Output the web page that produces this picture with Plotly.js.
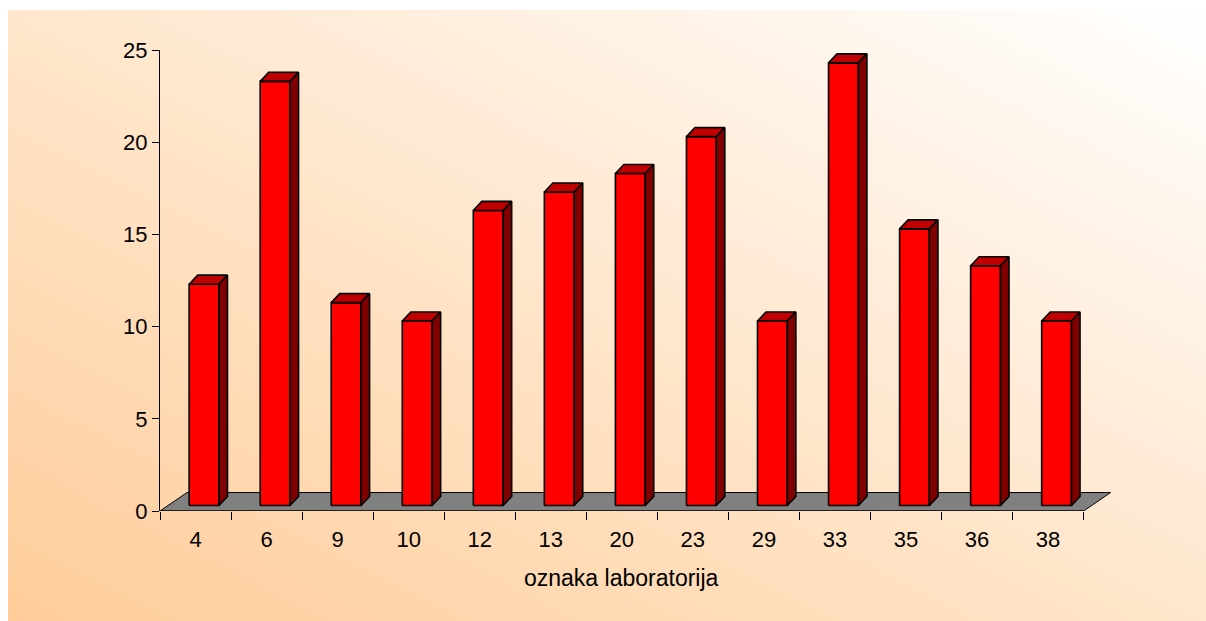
<!DOCTYPE html>
<html>
<head>
<meta charset="utf-8">
<script src="https://cdn.plot.ly/plotly-3.0.1.min.js"></script>
<style>
  html, body { margin: 0; padding: 0; background: #ffffff; }
  #bg { position: absolute; left: 8px; top: 10px; width: 1198px; height: 611px;
        background: linear-gradient(to top right, #FFCC99 0%, #FFE6CC 50%, #FFFFFF 100%); }
  #chart { position: absolute; left: 0; top: 0; width: 1206px; height: 621px; }
</style>
</head>
<body>
<div id="bg"></div>
<div id="chart"></div>
<script>
// ---- data ----
const categories = ['4', '6', '9', '10', '12', '13', '20', '23', '29', '33', '35', '36', '38'];
const values = [12, 23, 11, 10, 16, 17, 18, 20, 10, 24, 15, 13, 10];
const yTickVals = [0, 5, 10, 15, 20, 25];
const xTitle = 'oznaka laboratorija';

// ---- pseudo-3D geometry (in axis units) ----
const barW = 0.42, frontDx = 0.12, frontDy = 0.3;
const sideDx = 0.12, sideDy = 0.49;
const floorDx = 0.38, floorDy = 1.0;
const n = categories.length;
const idx = categories.map((_, i) => i);

const fx = [], fy = [], tx = [], ty = [], sx = [], sy = [];
idx.forEach(i => {
  const v = values[i];
  const x0 = i + frontDx - barW / 2, x1 = x0 + barW;
  const y0 = frontDy, y1 = frontDy + v;
  fx.push(x0, x1, x1, x0, x0, null); fy.push(y0, y0, y1, y1, y0, null);
  tx.push(x0, x1, x1 + sideDx, x0 + sideDx, x0, null);
  ty.push(y1, y1, y1 + sideDy, y1 + sideDy, y1, null);
  sx.push(x1, x1 + sideDx, x1 + sideDx, x1, x1, null);
  sy.push(y0, y0 + sideDy, y1 + sideDy, y1, y0, null);
});

const xL = -0.5, xR = n - 0.5;
const boundaries = idx.map(i => i - 0.5).concat([xR]);
const edge = { color: '#000000', width: 1.6 };

const traces = [
  { type: 'scatter', mode: 'lines', x: [xL, xR, xR + floorDx, xL + floorDx, xL],
    y: [0, 0, floorDy, floorDy, 0], fill: 'toself', fillcolor: '#808080',
    line: { color: '#000000', width: 1 }, hoverinfo: 'skip' },
  { type: 'scatter', mode: 'lines', x: fx, y: fy, fill: 'toself', fillcolor: '#FF0000',
    line: edge, hoverinfo: 'skip' },
  { type: 'scatter', mode: 'lines', x: tx, y: ty, fill: 'toself', fillcolor: '#C00000',
    line: edge, hoverinfo: 'skip' },
  { type: 'scatter', mode: 'lines', x: sx, y: sy, fill: 'toself', fillcolor: '#800000',
    line: edge, hoverinfo: 'skip' },
  { type: 'scatter', mode: 'lines', x: [xL, xR], y: [0, 0],
    line: { color: '#000000', width: 1 }, hoverinfo: 'skip' }
];

const font = { family: 'Liberation Sans, Arial, sans-serif', color: '#000000' };

const layout = {
  width: 1206, height: 621,
  margin: { l: 160, r: 94, t: 50, b: 110, pad: 0 },
  paper_bgcolor: 'rgba(0,0,0,0)', plot_bgcolor: 'rgba(0,0,0,0)',
  showlegend: false,
  font: font,
  xaxis: {
    range: [xL, xR + floorDx + 0.02], showline: false, showgrid: false, zeroline: false,
    tickmode: 'array', tickvals: idx, ticktext: categories, ticks: '',
    ticklabelstandoff: 13,
    tickfont: Object.assign({ size: 22 }, font),
    minor: { tickmode: 'array', tickvals: boundaries, ticks: 'outside', ticklen: 8,
             tickwidth: 1, tickcolor: '#000000', showgrid: false },
    fixedrange: true
  },
  yaxis: {
    range: [0, 25], showline: true, linecolor: '#000000', linewidth: 1,
    showgrid: false, zeroline: false,
    tickmode: 'array', tickvals: yTickVals, ticks: 'outside', ticklen: 7,
    tickcolor: '#000000', tickwidth: 1,
    tickfont: Object.assign({ size: 22 }, font),
    fixedrange: true
  },
  annotations: [{
    text: xTitle, xref: 'x', yref: 'paper', x: (xL + xR) / 2, y: -0.145,
    xanchor: 'center', yanchor: 'middle', showarrow: false,
    font: Object.assign({ size: 23 }, font)
  }]
};

Plotly.newPlot('chart', traces, layout, { displayModeBar: false, staticPlot: true });
</script>
</body>
</html>
